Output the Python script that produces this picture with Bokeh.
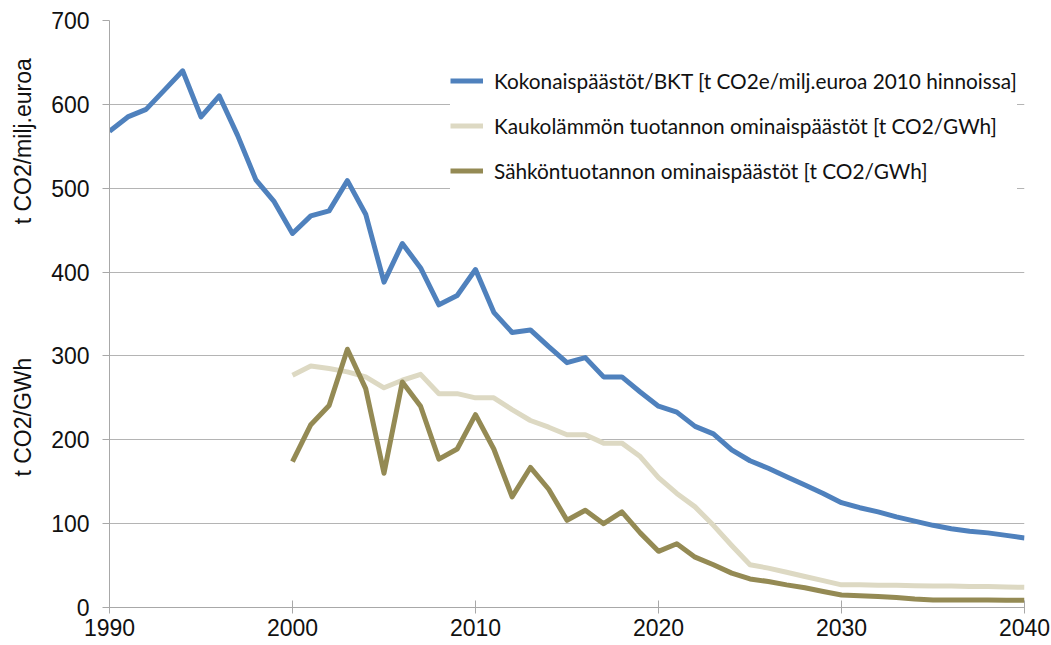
import math
from bokeh.plotting import figure
from bokeh.layouts import row
from bokeh.models import Range1d, FixedTicker, Legend, LegendItem
from bokeh.core.properties import value
from bokeh.embed import file_html
from bokeh.resources import INLINE

# ---- data ----
years_total = list(range(1990, 2041))
total_per_gdp = [568, 585, 594, 617, 640, 585, 610, 563, 510, 484,
                 446, 467, 473, 509, 469, 388, 434, 405, 361, 372,
                 403, 352, 328, 331, 311, 292, 298, 275, 275, 257,
                 240, 233, 216, 207, 188, 175, 166, 156, 146, 136,
                 125, 119, 114, 108, 103, 98, 94, 91, 89, 86, 83]

years_energy = list(range(2000, 2041))
district_heat = [277, 288, 285, 281, 275, 262, 271, 278, 255, 255,
                 250, 250, 236, 223, 215, 206, 206, 196, 196, 180,
                 155, 136, 120, 98, 74, 51, 47, 42, 37, 32,
                 27, 27, 26.5, 26.5, 26, 25.5, 25.5, 25, 25, 24.5, 24]
electricity = [174, 218, 241, 308, 261, 160, 269, 240, 177, 189,
               230, 189, 132, 167, 141, 104, 116, 100, 114, 89,
               67, 76, 60, 51, 41, 34, 31, 27, 23.5, 19,
               15, 14, 13, 12, 10, 9, 9, 9, 9, 8.5, 8.5]

series_names = ["Kokonaispäästöt/BKT [t CO2e/milj.euroa 2010 hinnoissa]",
                "Kaukolämmön tuotannon ominaispäästöt [t CO2/GWh]",
                "Sähköntuotannon ominaispäästöt [t CO2/GWh]"]
series_colors = ["#4F81BD", "#DDD9C3", "#948A54"]

x_ticks = [1990, 2000, 2010, 2020, 2030, 2040]
y_ticks = [0, 100, 200, 300, 400, 500, 600, 700]
y_titles = ["t CO2/milj.euroa", "t CO2/GWh"]
y_title_pos = [556, 227]

AX_FONT = "Liberation Sans"
LEG_FONT = "Lato"

# ---- left strip carrying the two vertical axis titles ----
side = figure(width=40, height=645, output_backend="svg", toolbar_location=None,
              x_range=Range1d(0, 1), y_range=Range1d(0, 700),
              min_border_left=0, min_border_right=0, min_border_top=20,
              min_border_bottom=38)
side.axis.visible = False
side.grid.visible = False
side.outline_line_color = None
side.text(x=[0.55, 0.55], y=y_title_pos, text=y_titles, angle=math.pi / 2,
          text_align="center", text_baseline="middle",
          text_font=value(AX_FONT), text_font_size="23px", text_color="#111111")

# ---- main chart ----
p = figure(width=1011, height=645, output_backend="svg", toolbar_location=None,
           x_range=Range1d(1990, 2040), y_range=Range1d(0, 700),
           min_border_left=69, min_border_right=27, min_border_top=20,
           min_border_bottom=38)
p.outline_line_color = None

p.xgrid.grid_line_color = None
p.ygrid.grid_line_color = "#b4b4b4"
p.ygrid.grid_line_width = 1
p.ygrid.ticker = FixedTicker(ticks=y_ticks)

p.xaxis.ticker = FixedTicker(ticks=x_ticks)
p.yaxis.ticker = FixedTicker(ticks=y_ticks)
for ax in (p.xaxis[0], p.yaxis[0]):
    ax.axis_line_color = "#a8a8a8"
    ax.major_tick_line_color = "#a8a8a8"
    ax.minor_tick_line_color = None
    ax.major_label_text_font = AX_FONT
    ax.major_label_text_font_size = "23px"
    ax.major_label_text_color = "#111111"
p.xaxis.major_tick_in = 7
p.xaxis.major_tick_out = 6
p.xaxis.major_label_standoff = 5
p.yaxis.major_tick_in = 0
p.yaxis.major_tick_out = 7
p.yaxis.major_label_standoff = 13

r1 = p.line(years_total, total_per_gdp, line_color=series_colors[0], line_width=5,
            line_join="round")
r2 = p.line(years_energy, district_heat, line_color=series_colors[1], line_width=5,
            line_join="round")
r3 = p.line(years_energy, electricity, line_color=series_colors[2], line_width=5,
            line_join="round")

legend = Legend(items=[LegendItem(label=series_names[0], renderers=[r1]),
                       LegendItem(label=series_names[1], renderers=[r2]),
                       LegendItem(label=series_names[2], renderers=[r3])],
                location=(341, 414), orientation="vertical",
                padding=36, margin=0, spacing=0,
                glyph_width=33, glyph_height=45, label_height=45,
                label_standoff=11,
                label_text_font=LEG_FONT, label_text_font_size="20.8px",
                label_text_color="#111111",
                background_fill_color="white", background_fill_alpha=1.0,
                border_line_color=None)
p.add_layout(legend, "center")

layout = row(side, p)
open("out.html", "w").write(file_html(layout, INLINE))
